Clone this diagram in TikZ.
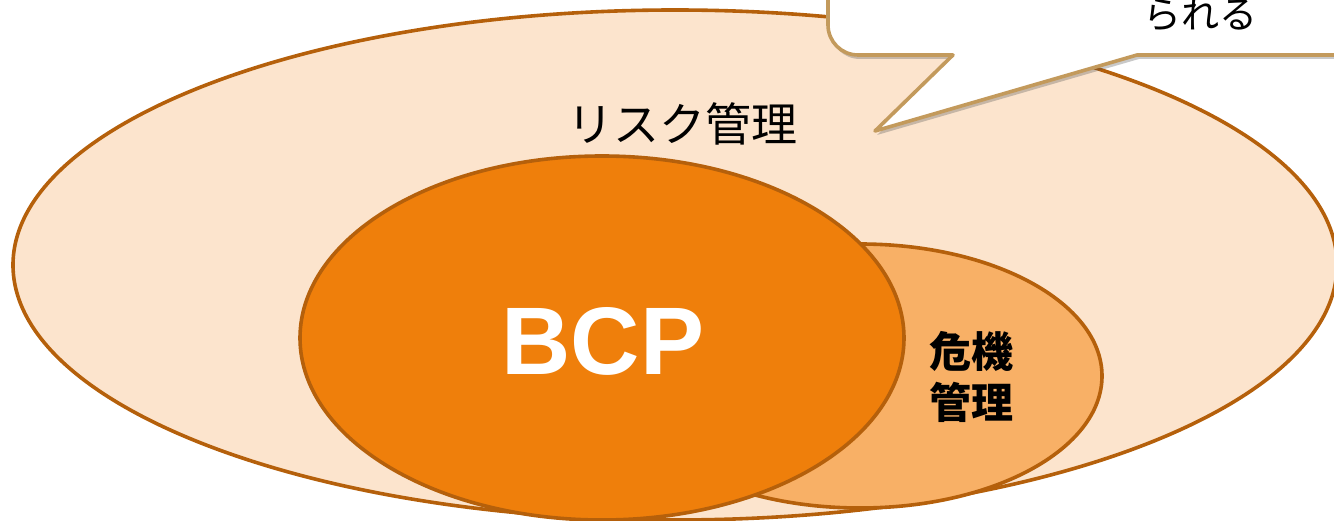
\documentclass[tikz,border=0pt]{standalone}
\usepackage{fontspec}
\setmainfont{Liberation Sans}
\newfontfamily\jp{Noto Sans CJK JP}
\usetikzlibrary{shapes.geometric,shadows}
\definecolor{riskfill}{HTML}{FCE4CD}
\definecolor{crisisfill}{HTML}{F8B066}
\definecolor{bcpfill}{HTML}{EF7F0B}
\definecolor{edge}{HTML}{B5600B}
\definecolor{calloutedge}{HTML}{C39A5C}
\begin{document}
\begin{tikzpicture}[x=1pt,y=-1pt,
  ring/.style={ellipse, draw=edge, line width=3.6pt, inner sep=0pt, outer sep=0pt},
  callout/.style={draw=calloutedge, fill=white, line width=3.6pt, line join=round,
    drop shadow={shadow xshift=2pt, shadow yshift=-4pt, opacity=0.3, fill=black!70}},
  jplabel/.style={font=\jp\fontsize{46pt}{52pt}\selectfont, text=black, inner sep=0pt},
  crisislabel/.style={font=\jp\bfseries\fontsize{42pt}{51pt}\selectfont, text=black, align=center, inner sep=0pt},
  bcplabel/.style={font=\bfseries\fontsize{96pt}{104pt}\selectfont, text=white, inner sep=0pt}]
\useasboundingbox (0,0) rectangle (1334,521);
\clip (0,0) rectangle (1334,521);
\node[ring, fill=riskfill, minimum width=1324pt, minimum height=510pt] (risk) at (675,265) {};
\node[ring, fill=crisisfill, minimum width=484pt, minimum height=264pt] (crisis) at (860,376) {};
\node[ring, fill=bcpfill, minimum width=604pt, minimum height=364pt] (bcp) at (602,338) {};
\draw[callout] (828,-60) -- (828,25) .. controls (828,41.6) and (841.4,55) .. (858,55)
  -- (953,55) -- (875,131) -- (1137,55) -- (1400,55) -- (1400,-60) -- cycle;
\node[jplabel] (risklabel) at (682,124) {リスク管理};
\node[bcplabel] (bcplabel) at (603,341) {BCP};
\node[crisislabel] (crisislabel) at (971,377) {危機\\管理};
\node[font=\jp\fontsize{38pt}{44pt}\selectfont, inner sep=0pt] (callouttext) at (1200,15) {られる};
\end{tikzpicture}
\end{document}
